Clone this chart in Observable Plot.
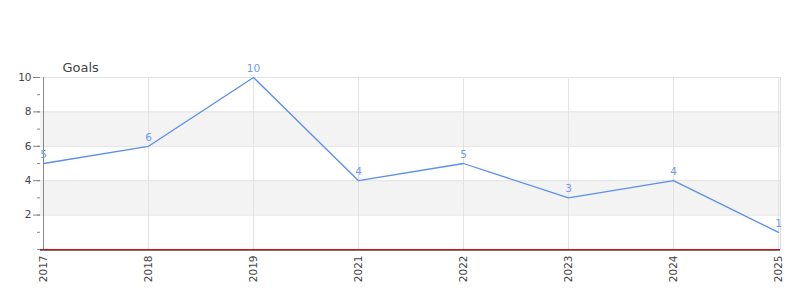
<!DOCTYPE html>
<html>
<head>
<meta charset="utf-8">
<script src="https://cdn.jsdelivr.net/npm/d3@7"></script>
<script src="https://cdn.jsdelivr.net/npm/@observablehq/plot@0.6"></script>
<style>
  html, body { margin: 0; padding: 0; background: #fff; }
  body { width: 800px; height: 300px; overflow: hidden; }
</style>
</head>
<body>
<div id="chart"></div>
<script>
const years = ["2017", "2018", "2019", "2021", "2022", "2023", "2024", "2025"];
const goals = [5, 6, 10, 4, 5, 3, 4, 1];
const bandLow = [2, 6];
const bandHigh = [4, 8];
const majorTicks = [2, 4, 6, 8, 10];
const minorTicks = [0, 1, 2, 3, 4, 5, 6, 7, 8, 9, 10];
const title = "Goals";

const data = years.map((y, i) => ({year: y, value: goals[i]}));
const bands = bandLow.map((lo, i) => ({y1: lo, y2: bandHigh[i]}));

const lineColor = "#5b8ef0";
const font = "DejaVu Sans, sans-serif";

const chart = Plot.plot({
  width: 800,
  height: 300,
  marginLeft: 40,
  marginRight: 20,
  marginTop: 77,
  marginBottom: 51,
  style: {fontFamily: font, fontSize: "10.5px", color: "#444", background: "#fff"},
  x: {type: "point", domain: years, padding: 0, label: null},
  y: {domain: [0, 10], label: null},
  marks: [
    Plot.rect(bands, {y1: "y1", y2: "y2", fill: "#f3f3f3"}),
    Plot.gridX(years, {stroke: "#e3e3e3", strokeOpacity: 1}),
    Plot.gridY(majorTicks, {stroke: "#e3e3e3", strokeOpacity: 1}),
    Plot.frame({anchor: "right", stroke: "#dcdcdc"}),
    Plot.frame({anchor: "top", stroke: "#e3e3e3"}),
    Plot.ruleY([0], {stroke: "#777", dy: 1}),
    Plot.ruleY([0], {stroke: "#cc1111"}),
    Plot.axisY(minorTicks, {tickSize: 3, tickFormat: () => "", stroke: "#888"}),
    Plot.axisY(majorTicks, {tickSize: 7, tickPadding: 2, stroke: "#888", fill: "#444"}),
    Plot.ruleX([years[0]], {stroke: "#888"}),
    Plot.ruleY([0], {x1: years[0], x2: years[0], dx: -10, stroke: "#888"}),
    Plot.axisX({tickRotate: -90, tickSize: 0, tickPadding: 6, fill: "#444"}),
    Plot.line(data, {x: "year", y: "value", stroke: lineColor, strokeWidth: 1.3}),
    Plot.text(data, {x: "year", y: "value", text: d => String(d.value), dy: -9, fill: "#6f9af0", fontSize: 10.5}),
    Plot.text([title], {frameAnchor: "top-left", dx: 22, dy: -15, fill: "#444", fontSize: 13, textAnchor: "start"})
  ]
});
document.getElementById("chart").appendChild(chart);
</script>
</body>
</html>
